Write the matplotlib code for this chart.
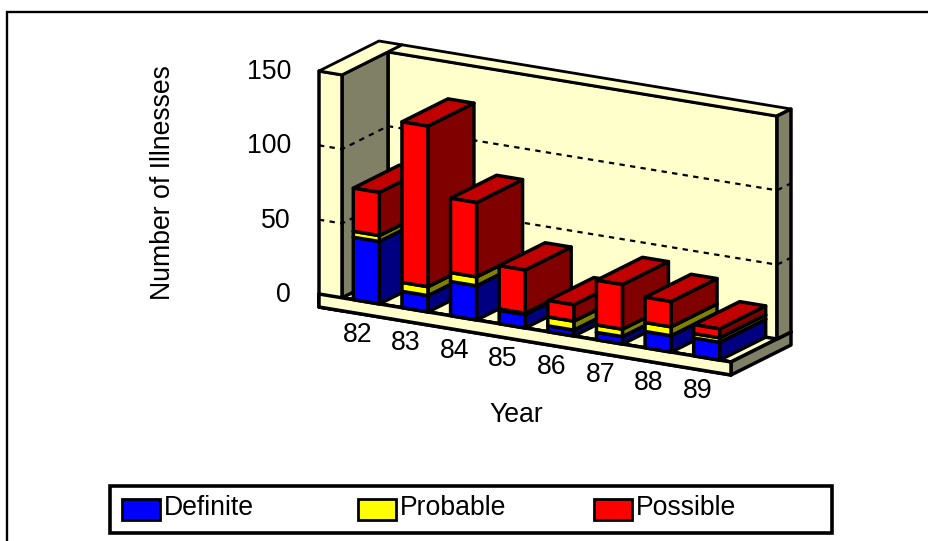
import matplotlib
matplotlib.use("Agg")
import matplotlib.pyplot as plt
from matplotlib.patches import Polygon, Rectangle

plt.rcParams['font.family'] = ['Liberation Sans', 'DejaVu Sans']

years = ['82', '83', '84', '85', '86', '87', '88', '89']
definite = [42, 11, 23, 9, 4, 5, 11, 12]
probable = [4, 6, 6, 1, 6, 5, 6, 3]
possible = [29, 108, 50, 29, 11, 30, 17, 6]
series_names = ['Definite', 'Probable', 'Possible']
yticks = [0, 50, 100, 150]
ymax = 150

FRONT = {'Definite': '#0000FF', 'Probable': '#FFFF00', 'Possible': '#FF0000'}
SIDE = {'Definite': '#000080', 'Probable': '#808000', 'Possible': '#800000'}
TOP = {'Definite': '#0000C0', 'Probable': '#C0C000', 'Possible': '#C00000'}
CREAM = '#FFFFCC'
GREY = '#808066'
FS = 19.2

W, H = 929, 541
fig = plt.figure(figsize=(W / 100, H / 100), dpi=100, facecolor='white')
ax = fig.add_axes([0, 0, 1, 1])
ax.set_xlim(0, W)
ax.set_ylim(H, 0)
ax.axis('off')

# oblique projection: u = px along the floor, v = value, d = depth 0..1
OX, OY = 319.0, 294.0
SLOPE = 68.0 / 412.0
VS = 223.0 / ymax
DX, DY = 60.0, -30.0
LEN = 412.0
WALL = 23.0
DB = 46.0 / 60.0
FLOOR = -13.0 / VS
STEP = (LEN - WALL) / len(years)
BAR = 26.0


def p(u, v, d=0.0):
    return (OX + u + DX * d, OY + u * SLOPE - v * VS + DY * d)


def poly(pts, fc, lw=2.5, z=1):
    ax.add_patch(Polygon(pts, closed=True, facecolor=fc, edgecolor='black',
                         linewidth=lw, joinstyle='round', zorder=z))


def box(u0, u1, v0, v1, d0, d1, face, side, top, z):
    poly([p(u0, v0, d0), p(u1, v0, d0), p(u1, v1, d0), p(u0, v1, d0)], face, z=z + 0.2)
    poly([p(u1, v0, d0), p(u1, v0, d1), p(u1, v1, d1), p(u1, v1, d0)], side, z=z + 0.1)
    poly([p(u0, v1, d0), p(u1, v1, d0), p(u1, v1, d1), p(u0, v1, d1)], top, z=z + 0.1)


# page frame
ax.plot([7, 7, W], [H, 11.5, 11.5], color='black', lw=1.7, solid_joinstyle='miter', zorder=0.5)

# floor
poly([p(0, 0), p(LEN, 0), p(LEN, 0, 1), p(0, 0, 1)], CREAM, z=1)
poly([p(0, FLOOR), p(LEN, FLOOR), p(LEN, 0), p(0, 0)], CREAM, z=1.1)
poly([p(LEN, FLOOR), p(LEN, FLOOR, 1), p(LEN, 0, 1), p(LEN, 0)], GREY, z=1.1)

# back wall
poly([p(WALL, 0, DB), p(LEN, 0, DB), p(LEN, ymax, DB), p(WALL, ymax, DB)], CREAM, z=1.2)
poly([p(WALL, ymax, DB), p(LEN, ymax, DB), p(LEN, ymax, 1), p(WALL, ymax, 1)], CREAM, lw=2.0, z=1.2)
poly([p(LEN, 0, DB), p(LEN, 0, 1), p(LEN, ymax, 1), p(LEN, ymax, DB)], GREY, z=1.2)

# left wall
poly([p(WALL, 0), p(WALL, 0, DB), p(WALL, ymax, DB), p(WALL, ymax)], GREY, z=1.3)
poly([p(0, ymax), p(WALL, ymax), p(WALL, ymax, 1), p(0, ymax, 1)], CREAM, lw=2.0, z=1.35)
poly([p(0, FLOOR), p(WALL, FLOOR), p(WALL, ymax), p(0, ymax)], CREAM, z=1.3)
# the floor's front edge runs over the wall base
poly([p(0, FLOOR), p(LEN, FLOOR), p(LEN, 0), p(0, 0)], CREAM, z=1.32)

# grid lines
for v in yticks[1:-1]:
    pts = [p(0, v), p(WALL, v), p(WALL, v, DB), p(LEN, v, DB), p(LEN, v, 1)]
    ax.plot([q[0] for q in pts], [q[1] for q in pts], color='black', lw=1.6,
            linestyle=(0, (2.4, 2.4)), zorder=1.5)

# bars
for i in range(len(years)):
    centre = WALL + STEP * (i + 0.5)
    u0, u1 = centre - BAR / 2, centre + BAR / 2
    base = 0
    for name, vals in zip(series_names, (definite, probable, possible)):
        top = base + vals[i]
        box(u0, u1, base, top, 0, DB, FRONT[name], SIDE[name], TOP[name], 2 + i)
        base = top

# value axis labels
for v in yticks:
    x, y = p(0, v)
    ax.text(x - 28, y + 1, str(v), ha='right', va='center', fontsize=FS, color='black', zorder=20)

# category labels
for i, lab in enumerate(years):
    x, y = p(WALL + STEP * (i + 0.5), 0)
    ax.text(x - 9, y + 33, lab, ha='center', va='center', fontsize=FS, color='black', zorder=20)

ax.text(516, 415, 'Year', ha='center', va='center', fontsize=FS, zorder=20)
ax.text(163, 183, 'Number of Illnesses', rotation=90, ha='center', va='center', fontsize=FS, zorder=20)

# legend
ax.add_patch(Rectangle((110.5, 485.5), 722, 47, facecolor='white', edgecolor='black', linewidth=2.6, zorder=20))
for x0, name in zip((122, 358, 594), series_names):
    ax.add_patch(Rectangle((x0, 499), 38, 21, facecolor=FRONT[name], edgecolor='black', linewidth=2.0, zorder=21))
    ax.text(x0 + 42, 508, name, ha='left', va='center', fontsize=FS, zorder=21)

fig.savefig('out.png', dpi=100)
